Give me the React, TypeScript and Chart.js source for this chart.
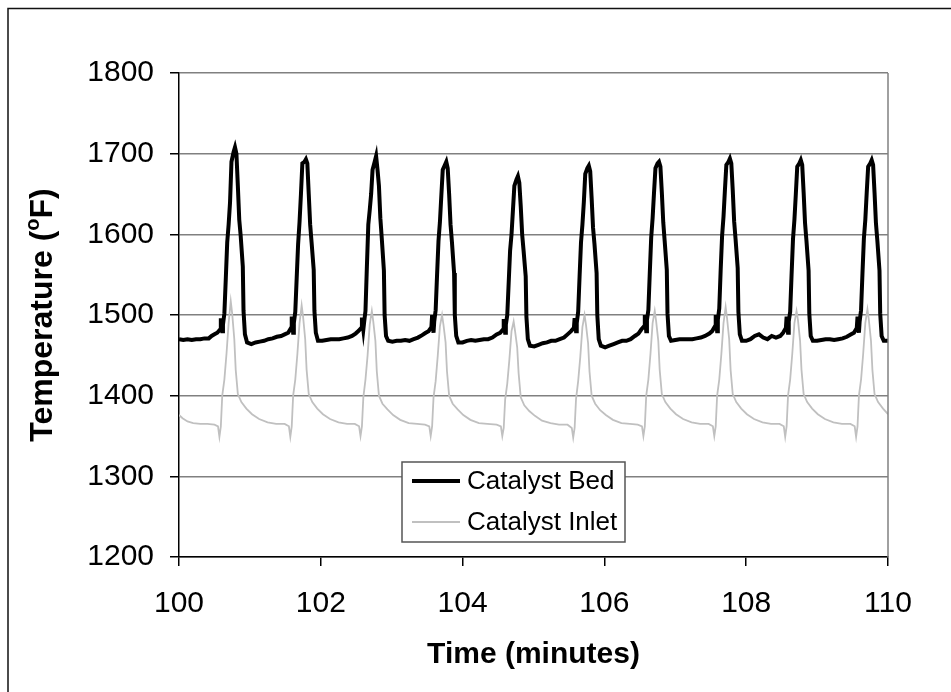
import { useEffect, useRef } from 'react';
import { Chart, registerables } from 'chart.js';

Chart.register(...registerables);

const seriesNames = ['Catalyst Bed', 'Catalyst Inlet'];
const xTickValues = [100, 102, 104, 106, 108, 110];
const yTickValues = [1200, 1300, 1400, 1500, 1600, 1700, 1800];
const xTitle = 'Time (minutes)';
const yTitleParts = ['Temperature (', 'o', 'F)'];

// [minutes, °F]
const catalystBed: number[][] = [
  [100.00,1470],[100.06,1469],[100.12,1470],[100.18,1469],[100.24,1470],[100.30,1470],[100.36,1471],[100.42,1471],[100.46,1474],[100.50,1476],
  [100.54,1478],[100.58,1482],[100.59,1496],[100.61,1480],[100.62,1488],[100.64,1502],[100.66,1545],[100.68,1590],[100.70,1612],[100.72,1640],[100.74,1690],[100.77,1702],[100.79,1708],[100.81,1700],[100.83,1660],[100.85,1618],[100.87,1598],[100.90,1560],[100.91,1505],[100.93,1476],[100.96,1466],
  [101.02,1464],[101.08,1466],[101.14,1467],[101.20,1468],[101.26,1470],[101.32,1471],[101.38,1473],[101.44,1474],[101.49,1476],
  [101.54,1478],[101.58,1484],[101.59,1498],[101.61,1478],[101.62,1490],[101.64,1504],[101.66,1546],[101.68,1588],[101.70,1615],[101.72,1650],[101.74,1688],[101.77,1690],[101.79,1693],[101.81,1688],[101.83,1650],[101.85,1612],[101.87,1590],[101.90,1556],[101.91,1505],[101.93,1478],[101.96,1468],
  [102.02,1468],[102.08,1469],[102.14,1470],[102.20,1470],[102.26,1470],[102.32,1471],[102.38,1472],[102.44,1474],[102.49,1477],
  [102.53,1480],[102.57,1484],[102.58,1497],[102.60,1482],[102.61,1490],[102.63,1505],[102.65,1560],[102.67,1612],[102.69,1630],[102.71,1650],[102.73,1680],[102.76,1690],[102.78,1697],[102.80,1680],[102.82,1660],[102.84,1620],[102.86,1595],[102.89,1555],[102.90,1500],[102.92,1474],[102.95,1468],
  [103.01,1467],[103.07,1468],[103.13,1468],[103.19,1469],[103.25,1468],[103.31,1470],[103.37,1472],[103.43,1475],[103.48,1478],
  [103.52,1480],[103.56,1485],[103.57,1500],[103.59,1478],[103.60,1492],[103.62,1506],[103.64,1550],[103.66,1592],[103.68,1615],[103.70,1648],[103.72,1680],[103.75,1686],[103.77,1690],[103.79,1682],[103.81,1650],[103.83,1612],[103.85,1590],[103.88,1552],[103.89,1500],[103.91,1474],[103.94,1466],
  [104.00,1466],[104.06,1468],[104.12,1469],[104.18,1468],[104.24,1469],[104.30,1470],[104.36,1470],[104.42,1472],[104.48,1476],
  [104.53,1478],[104.57,1482],[104.58,1495],[104.60,1478],[104.61,1488],[104.63,1500],[104.65,1540],[104.67,1580],[104.69,1600],[104.71,1630],[104.73,1660],[104.76,1668],[104.78,1672],[104.80,1664],[104.82,1635],[104.84,1600],[104.86,1580],[104.89,1548],[104.90,1498],[104.92,1470],[104.95,1462],
  [105.01,1461],[105.07,1463],[105.13,1465],[105.19,1466],[105.25,1468],[105.31,1468],[105.37,1470],[105.43,1472],[105.48,1476],
  [105.53,1480],[105.57,1484],[105.58,1496],[105.60,1480],[105.61,1490],[105.63,1504],[105.65,1548],[105.67,1590],[105.69,1612],[105.71,1640],[105.73,1675],[105.76,1682],[105.78,1685],[105.80,1678],[105.82,1645],[105.84,1608],[105.86,1588],[105.89,1552],[105.90,1500],[105.92,1470],[105.95,1462],
  [106.01,1460],[106.07,1462],[106.13,1464],[106.19,1466],[106.25,1468],[106.31,1468],[106.37,1470],[106.43,1474],[106.48,1477],
  [106.52,1482],[106.56,1486],[106.57,1500],[106.59,1480],[106.60,1494],[106.62,1506],[106.64,1552],[106.66,1596],[106.68,1620],[106.70,1652],[106.72,1682],[106.75,1688],[106.77,1690],[106.79,1684],[106.81,1652],[106.83,1615],[106.85,1592],[106.88,1556],[106.89,1502],[106.91,1474],[106.94,1468],
  [107.00,1469],[107.06,1470],[107.12,1470],[107.18,1470],[107.24,1470],[107.30,1471],[107.36,1472],[107.42,1474],[107.48,1477],
  [107.52,1480],[107.56,1486],[107.57,1500],[107.59,1480],[107.60,1494],[107.62,1508],[107.64,1556],[107.66,1598],[107.68,1622],[107.70,1655],[107.72,1686],[107.75,1690],[107.77,1694],[107.79,1688],[107.81,1655],[107.83,1616],[107.85,1594],[107.88,1558],[107.89,1504],[107.91,1476],[107.94,1468],
  [108.00,1468],[108.06,1470],[108.12,1474],[108.18,1476],[108.24,1472],[108.30,1470],[108.36,1474],[108.42,1472],[108.48,1474],
  [108.52,1478],[108.56,1484],[108.57,1498],[108.59,1478],[108.60,1492],[108.62,1504],[108.64,1550],[108.66,1594],[108.68,1618],[108.70,1650],[108.72,1684],[108.75,1688],[108.77,1692],[108.79,1686],[108.81,1652],[108.83,1614],[108.85,1592],[108.88,1555],[108.89,1502],[108.91,1474],[108.94,1468],
  [109.00,1468],[109.06,1469],[109.12,1470],[109.18,1470],[109.24,1469],[109.30,1470],[109.36,1471],[109.42,1473],[109.48,1476],
  [109.52,1478],[109.56,1484],[109.57,1498],[109.59,1478],[109.60,1492],[109.62,1506],[109.64,1552],[109.66,1595],[109.68,1618],[109.70,1652],[109.72,1684],[109.75,1688],[109.77,1692],[109.79,1686],[109.81,1652],[109.83,1614],[109.85,1592],[109.88,1555],[109.89,1502],[109.91,1474],[109.94,1468],[110.00,1468],
];

// [minutes, °F]
const catalystInlet: number[][] = [
  [100.00,1376],[100.05,1372],[100.12,1368],[100.20,1366],[100.30,1365],[100.40,1365],[100.50,1364],
  [100.55,1362],[100.57,1349],[100.59,1362],[100.61,1400],[100.64,1420],[100.67,1452],[100.70,1490],[100.73,1517],[100.75,1502],[100.78,1470],[100.80,1432],[100.83,1402],[100.88,1392],[100.95,1384],[101.03,1377],[101.13,1371],[101.25,1367],[101.37,1365],[101.49,1365],
  [101.55,1362],[101.57,1349],[101.59,1362],[101.61,1400],[101.64,1420],[101.67,1452],[101.70,1490],[101.73,1512],[101.75,1498],[101.78,1470],[101.80,1432],[101.83,1402],[101.88,1392],[101.95,1384],[102.03,1377],[102.13,1371],[102.25,1367],[102.37,1365],[102.48,1365],
  [102.54,1362],[102.56,1350],[102.58,1362],[102.60,1398],[102.63,1420],[102.66,1450],[102.69,1488],[102.72,1505],[102.74,1492],[102.77,1468],[102.79,1430],[102.82,1400],[102.87,1390],[102.94,1383],[103.02,1376],[103.12,1370],[103.24,1366],[103.36,1365],[103.47,1364],
  [103.53,1362],[103.55,1350],[103.57,1362],[103.59,1398],[103.62,1418],[103.65,1450],[103.68,1486],[103.71,1500],[103.73,1488],[103.76,1466],[103.78,1430],[103.81,1400],[103.86,1390],[103.93,1383],[104.01,1376],[104.11,1370],[104.23,1366],[104.35,1365],[104.48,1364],
  [104.54,1362],[104.56,1350],[104.58,1360],[104.60,1395],[104.63,1415],[104.66,1445],[104.69,1480],[104.72,1492],[104.74,1480],[104.77,1460],[104.79,1428],[104.82,1398],[104.87,1388],[104.94,1381],[105.02,1375],[105.12,1369],[105.24,1366],[105.36,1364],[105.48,1364],
  [105.54,1360],[105.56,1348],[105.58,1360],[105.60,1396],[105.63,1418],[105.66,1448],[105.69,1485],[105.72,1500],[105.74,1488],[105.77,1465],[105.79,1430],[105.82,1400],[105.87,1390],[105.94,1382],[106.02,1376],[106.12,1370],[106.24,1366],[106.36,1365],[106.47,1364],
  [106.53,1362],[106.55,1350],[106.57,1362],[106.59,1400],[106.62,1420],[106.65,1452],[106.68,1490],[106.71,1505],[106.73,1492],[106.76,1468],[106.78,1432],[106.81,1402],[106.86,1392],[106.93,1384],[107.01,1377],[107.11,1371],[107.23,1367],[107.35,1365],[107.47,1365],
  [107.53,1362],[107.55,1350],[107.57,1362],[107.59,1400],[107.62,1420],[107.65,1452],[107.68,1490],[107.71,1510],[107.73,1496],[107.76,1470],[107.78,1432],[107.81,1402],[107.86,1392],[107.93,1384],[108.01,1377],[108.11,1371],[108.23,1367],[108.35,1365],[108.47,1365],
  [108.53,1362],[108.55,1349],[108.57,1362],[108.59,1400],[108.62,1420],[108.65,1452],[108.68,1490],[108.71,1505],[108.73,1494],[108.76,1468],[108.78,1432],[108.81,1402],[108.86,1392],[108.93,1384],[109.01,1377],[109.11,1371],[109.23,1367],[109.35,1365],[109.47,1365],
  [109.53,1362],[109.55,1349],[109.57,1362],[109.59,1400],[109.62,1420],[109.65,1452],[109.68,1490],[109.71,1507],[109.73,1494],[109.76,1468],[109.78,1432],[109.81,1402],[109.86,1392],[109.93,1384],[110.00,1377],
];

const FONT = "'Liberation Sans', Arial, sans-serif";
const BED_COLOR = '#000000';
const INLET_COLOR = '#c0c0c0';

const decorPlugin = {
  id: 'decor',
  beforeDraw(chart: any) {
    const ctx = chart.ctx;
    ctx.save();
    ctx.strokeStyle = '#111';
    ctx.lineWidth = 1.5;
    ctx.beginPath();
    ctx.moveTo(8, 700);
    ctx.lineTo(8, 8.5);
    ctx.lineTo(960, 8.5);
    ctx.stroke();
    ctx.restore();
  },
  afterDraw(chart: any) {
    const ctx = chart.ctx;
    const a = chart.chartArea;
    ctx.save();
    // right border of plot
    ctx.strokeStyle = '#808080';
    ctx.lineWidth = 1.5;
    ctx.beginPath();
    ctx.moveTo(a.right, a.top);
    ctx.lineTo(a.right, a.bottom);
    ctx.stroke();

    // legend box
    const lx = 402, ly = 462, lw = 223, lh = 80;
    ctx.fillStyle = '#fff';
    ctx.fillRect(lx, ly, lw, lh);
    ctx.strokeStyle = '#555';
    ctx.lineWidth = 1.5;
    ctx.strokeRect(lx, ly, lw, lh);
    const ds = chart.data.datasets;
    const rows = [481, 522];
    ctx.font = `26px ${FONT}`;
    ctx.textBaseline = 'middle';
    ctx.textAlign = 'left';
    ds.forEach((d: any, i: number) => {
      ctx.strokeStyle = d.borderColor;
      ctx.lineWidth = d.borderWidth;
      ctx.beginPath();
      ctx.moveTo(412, rows[i]);
      ctx.lineTo(460, rows[i]);
      ctx.stroke();
      ctx.fillStyle = '#000';
      ctx.fillText(d.label, 467, rows[i] + 1);
    });

    // y axis title with superscript degree
    const cx = 43, cy = (a.top + a.bottom) / 2;
    ctx.translate(cx, cy);
    ctx.rotate(-Math.PI / 2);
    const big = `bold 32px ${FONT}`;
    const small = `bold 20px ${FONT}`;
    ctx.font = big;
    const w1 = ctx.measureText(yTitleParts[0]).width;
    const w3 = ctx.measureText(yTitleParts[2]).width;
    ctx.font = small;
    const w2 = ctx.measureText(yTitleParts[1]).width;
    let x = -(w1 + w2 + w3) / 2;
    ctx.fillStyle = '#000';
    ctx.textBaseline = 'middle';
    ctx.font = big;
    ctx.fillText(yTitleParts[0], x, 0);
    x += w1;
    ctx.font = small;
    ctx.fillText(yTitleParts[1], x, -10);
    x += w2;
    ctx.font = big;
    ctx.fillText(yTitleParts[2], x, 0);
    ctx.restore();
  },
};

export default function App() {
  const ref = useRef<HTMLCanvasElement | null>(null);
  useEffect(() => {
    if (!ref.current) return;
    const chart = new Chart(ref.current, {
      type: 'line',
      data: {
        datasets: [
          {
            label: seriesNames[0],
            data: catalystBed.map(([x, y]) => ({ x, y })),
            borderColor: BED_COLOR,
            borderWidth: 4,
            pointRadius: 0,
            tension: 0,
            fill: false,
          },
          {
            label: seriesNames[1],
            data: catalystInlet.map(([x, y]) => ({ x, y })),
            borderColor: INLET_COLOR,
            borderWidth: 1.8,
            pointRadius: 0,
            tension: 0,
            fill: false,
          },
        ],
      },
      options: {
        responsive: false,
        animation: false,
        events: [],
        layout: { padding: { left: 0, top: 73, right: 63, bottom: 0 } },
        plugins: {
          legend: { display: false },
          tooltip: { enabled: false },
          title: { display: false },
        },
        scales: {
          x: {
            type: 'linear',
            min: xTickValues[0],
            max: xTickValues[xTickValues.length - 1],
            afterBuildTicks: (s: any) => {
              s.ticks = xTickValues.map((v) => ({ value: v }));
            },
            afterFit: (s: any) => {
              s.height = 135;
            },
            ticks: {
              font: { family: FONT, size: 30 },
              color: '#000',
              padding: 20,
              maxRotation: 0,
              autoSkip: false,
              callback: (v: any) => String(v),
            },
            grid: {
              drawOnChartArea: false,
              drawTicks: true,
              tickLength: 9,
              tickColor: '#000',
              lineWidth: 1.5,
            },
            border: { display: true, color: '#000', width: 1.5 },
            title: {
              display: true,
              text: xTitle,
              font: { family: FONT, size: 30, weight: 'bold' },
              color: '#000',
              padding: { top: 0, bottom: 19 },
            },
          },
          y: {
            type: 'linear',
            min: yTickValues[0],
            max: yTickValues[yTickValues.length - 1],
            afterBuildTicks: (s: any) => {
              s.ticks = yTickValues.map((v) => ({ value: v }));
            },
            afterFit: (s: any) => {
              s.width = 179;
            },
            ticks: {
              font: { family: FONT, size: 30 },
              color: '#000',
              padding: 16,
              autoSkip: false,
              callback: (v: any) => String(v),
            },
            grid: {
              color: '#808080',
              lineWidth: 1.5,
              drawTicks: true,
              tickLength: 9,
              tickColor: '#000',
            },
            border: { display: true, color: '#000', width: 1.5 },
          },
        },
      },
      plugins: [decorPlugin],
    });
    return () => chart.destroy();
  }, []);
  return (
    <canvas
      ref={ref}
      width={951}
      height={692}
      style={{ position: 'fixed', left: 0, top: 0, width: 951, height: 692 }}
    />
  );
}
